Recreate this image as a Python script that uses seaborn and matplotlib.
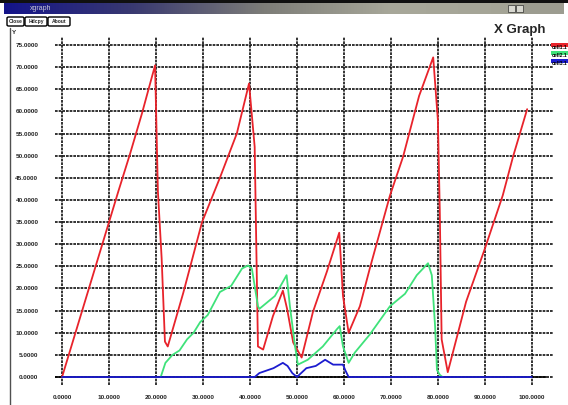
import numpy as np
import pandas as pd
import matplotlib
matplotlib.use("Agg")
import matplotlib.pyplot as plt
from matplotlib.patches import Rectangle, FancyBboxPatch
import seaborn as sns

# ---- data -------------------------------------------------------------
cell1_x = [0, 3, 6, 9, 12, 14.5, 17, 19.8, 20.4, 21.2, 21.9, 22.5, 25.8, 29.8,
           33.6, 37.2, 39.8, 41.0, 41.7, 42.8, 44.9, 47.0, 47.9, 49.2, 51.0,
           53.4, 56.4, 59.0, 59.8, 61.0, 63.4, 65.5, 69.8, 72.6, 76.0, 79.0,
           80.0, 80.4, 80.8, 82.1, 86.0, 90.0, 93.8, 96.0, 99.0]
cell1_y = [0, 10.5, 21, 31.5, 42, 50.5, 59.5, 70.4, 42, 26.8, 8, 6.9, 19, 35,
           45, 55, 66.3, 52, 6.9, 6.2, 13.8, 19.5, 15.4, 7.8, 4.4,
           14.7, 23.9, 32.6, 18.3, 10, 16, 24.5, 41, 49.8, 63.5, 72.2,
           58, 37.6, 8.5, 1.1, 17, 29, 41, 49.8, 60.5]

cell2_x = [21.0, 22.0, 23.5, 25.0, 26.6, 28.0, 29.4, 31.0, 33.6, 36.0, 38.3,
           39.6, 40.4, 41.7, 42.0, 45.3, 47.8, 48.5, 49.6, 50.2, 52.3, 55.5,
           58.5, 59.1, 59.8, 61.0, 62.3, 65.5, 69.8, 73.0, 75.5, 77.9, 78.7,
           79.4, 79.8, 80.4, 81.0]
cell2_y = [0, 3.2, 5, 6, 8.5, 10, 12.4, 14, 19.2, 20.6, 24.5,
           25.2, 24.5, 16, 15.4, 18.3, 23, 16, 6.9, 2.8, 3.9, 6.9,
           10.8, 11.5, 6.9, 3.2, 5.5, 9.6, 16, 18.8, 23, 25.7, 23,
           11.5, 1.6, 0.5, 0]

cell3_x = [0, 41.0, 42.0, 45.0, 47.0, 48.0, 49.0, 50.0, 52.0, 54.0, 56.0,
           57.7, 59.8, 60.3, 61.0, 100.0]
cell3_y = [0, 0, 0.9, 2.0, 3.2, 2.5, 0.9, 0, 2.0, 2.5, 3.9,
           2.8, 2.8, 1.5, 0, 0]

series_names = ["cell1.1", "cell2.1", "cell3.1"]
series_colors = ["#e8232b", "#3fe27a", "#1c1ccf"]

x_ticks = [0, 10, 20, 30, 40, 50, 60, 70, 80, 90, 100]
y_ticks = [0, 5, 10, 15, 20, 25, 30, 35, 40, 45, 50, 55, 60, 65, 70, 75]

# ---- figure -----------------------------------------------------------
W, H = 568, 405
sns.set_style("white")
plt.rcParams["font.family"] = ["Liberation Sans", "DejaVu Sans"]
fig = plt.figure(figsize=(W / 100, H / 100), dpi=100)
fig.patch.set_facecolor("white")


def fx(px):
    return px / W


def fy(py):
    return 1 - py / H


# window chrome: black top edge and title bar gradient
fig.patches.append(Rectangle((0, fy(3)), 1, 3 / H, transform=fig.transFigure,
                             facecolor="#101010", edgecolor="none", zorder=0))
bar = fig.add_axes([fx(4), fy(14), fx(520), 11 / H])
grad = np.linspace(0, 1, 256)[None, :]
cmap = matplotlib.colors.LinearSegmentedColormap.from_list(
    "bar", ["#14148a", "#3a3a70", "#7d7d78", "#a8a89a", "#a4a496"])
bar.imshow(grad, aspect="auto", cmap=cmap)
bar.set_axis_off()
fig.text(fx(30), fy(8.5), "xgraph", fontsize=5, color="#c8c8d8", va="center")
fig.patches.append(Rectangle((fx(524), fy(14)), fx(40), 11 / H,
                             transform=fig.transFigure, facecolor="#9c9c90",
                             edgecolor="none"))
for bx in (508, 516):
    fig.patches.append(Rectangle((fx(bx), fy(12)), fx(7), 7 / H,
                                 transform=fig.transFigure,
                                 facecolor="#d8d8d0", edgecolor="#303030",
                                 linewidth=0.5))

# left frame line
fig.add_artist(plt.Line2D([fx(10), fx(10)], [fy(28), 0],
                          transform=fig.transFigure, color="#505050",
                          linewidth=1.0))

# buttons
for (x0, x1, lab) in [(7, 24, "Close"), (25, 47, "Hdcpy"), (48, 70, "About")]:
    fig.patches.append(FancyBboxPatch((fx(x0), fy(26)), fx(x1 - x0), 9 / H,
                                      boxstyle="round,pad=0,rounding_size=0.003",
                                      transform=fig.transFigure,
                                      facecolor="white", edgecolor="black",
                                      linewidth=1.0))
    fig.text(fx((x0 + x1) / 2), fy(21.5), lab, fontsize=3.6,
             fontweight="bold", ha="center", va="center")

fig.text(fx(12), fy(33), "Y", fontsize=4.5, fontweight="bold",
         ha="left", va="center")
fig.text(fx(520), fy(30), "X Graph", fontsize=9.5, fontweight="bold",
         ha="center", va="center")

# legend entries at the right edge
for i, (name, col) in enumerate(zip(series_names, series_colors)):
    y0 = 43 + i * 8
    fig.patches.append(Rectangle((fx(551), fy(y0 + 4)), fx(20), 4 / H,
                                 transform=fig.transFigure, facecolor=col,
                                 edgecolor="none"))
    fig.text(fx(552), fy(y0 + 4.5), name, fontsize=3.6, fontweight="bold",
             ha="left", va="center", color="black")

# ---- plot area ----------------------------------------------------------
ax = fig.add_axes([fx(55), fy(385), fx(498), 348 / H])

frames = []
for name, xs, ys in zip(series_names, [cell1_x, cell2_x, cell3_x],
                        [cell1_y, cell2_y, cell3_y]):
    frames.append(pd.DataFrame({"x": xs, "y": ys, "series": name}))
df = pd.concat(frames, ignore_index=True)

ax.axhline(0, xmax=0.985, color="black", linewidth=1.2, zorder=1)
sns.lineplot(data=df, x="x", y="y", hue="series", palette=series_colors,
             sort=False, estimator=None, linewidth=1.3, legend=False, ax=ax,
             zorder=3)

ax.set_xlim(-1.5, 104.5)
ax.set_ylim(-1.8, 76.8)
ax.set_xticks(x_ticks)
ax.set_xticklabels([f"{v:.4f}" for v in x_ticks])
ax.set_yticks(y_ticks)
ax.set_yticklabels([f"{v:.4f}" for v in y_ticks])
ax.tick_params(axis="both", length=0, labelsize=4.6)
ax.tick_params(axis="y", pad=12)
ax.tick_params(axis="x", pad=7)
for lab in ax.get_xticklabels() + ax.get_yticklabels():
    lab.set_fontweight("bold")
ax.set_xlabel("")
ax.set_ylabel("")
ax.grid(True, color="#111111", linestyle=(0, (1.6, 0.6)), linewidth=1.2,
        zorder=0)
ax.set_axisbelow(True)
for s in ax.spines.values():
    s.set_visible(False)
ax.set_facecolor("white")

fig.savefig("out.png", dpi=100)
